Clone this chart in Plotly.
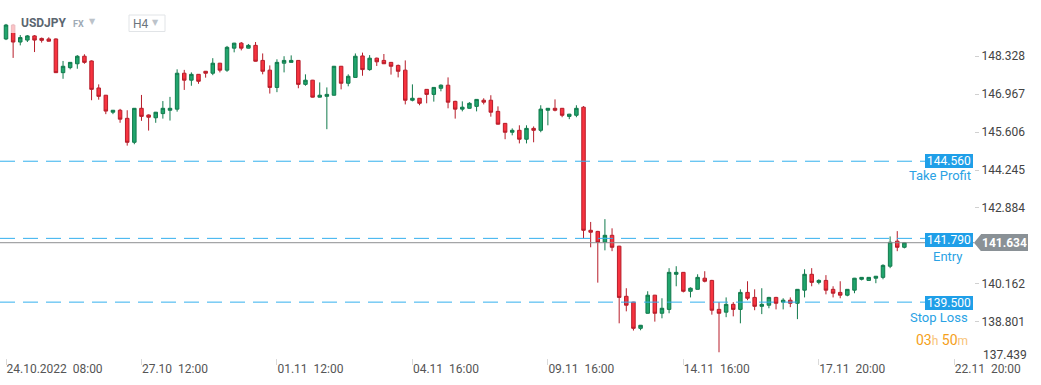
import plotly.graph_objects as go

# ---------------- data ----------------
opens = [148.95,149.45,148.84,148.91,149.06,148.97,148.95,148.95,147.74,147.92,
         148.06,148.33,148.16,147.19,146.93,146.32,146.39,146.10,145.24,146.46,
         146.22,146.12,146.27,146.39,146.43,147.72,147.47,147.68,147.79,147.72,
         148.08,147.83,148.62,148.80,148.62,148.72,148.18,147.83,147.21,148.08,
         148.11,148.18,147.32,147.47,146.86,146.89,146.93,147.97,147.36,147.57,
         148.34,147.85,148.26,148.18,148.11,148.00,147.83,146.75,146.82,147.14,
         146.96,147.18,147.29,146.71,146.43,146.46,146.53,146.75,146.75,146.35,
         145.92,145.60,145.67,145.35,145.74,145.67,146.39,146.46,146.46,146.17,
         146.21,146.50,142.08,142.04,141.65,141.90,141.51,139.71,139.50,138.56,
         139.10,139.75,139.10,139.24,140.50,140.57,139.89,139.96,140.36,140.28,
         139.24,139.14,139.42,139.24,139.85,139.67,139.35,139.39,139.67,139.50,
         139.57,139.46,139.93,140.50,140.21,140.28,139.96,139.85,139.75,139.93,
         140.32,140.28,140.36,140.39,140.79,141.69,141.47]
highs = [149.49,149.49,149.09,149.09,149.09,149.00,149.01,148.97,148.16,148.12,
         148.37,148.40,148.18,147.32,146.94,146.40,146.44,146.39,146.47,146.94,
         146.24,146.33,146.72,146.87,147.86,147.84,147.75,147.69,147.80,148.26,
         148.09,148.70,148.81,148.84,148.77,148.84,148.43,148.00,148.22,148.33,
         148.36,148.19,147.68,147.48,147.39,147.21,147.98,147.98,147.68,148.43,
         148.46,148.37,148.28,148.41,148.12,148.03,148.18,147.32,146.83,147.15,
         147.22,147.32,147.57,146.73,146.71,146.68,146.79,146.82,146.93,146.53,
         145.93,145.74,145.85,145.85,145.81,146.57,146.47,146.78,146.47,146.26,
         146.57,146.54,142.38,142.06,142.48,142.15,141.52,140.00,139.51,138.68,
         139.89,139.76,139.64,140.72,140.79,140.58,140.03,140.50,140.61,140.30,
         139.50,139.67,139.50,139.96,140.25,139.96,140.00,139.69,139.69,139.64,
         139.67,139.97,140.68,140.72,140.32,140.47,140.07,140.25,139.97,140.37,
         140.40,140.40,140.44,140.86,141.86,142.05,141.66]
lows = [148.91,148.27,148.72,148.84,148.48,148.82,148.86,147.73,147.52,147.86,
        147.88,148.06,146.75,146.77,146.25,146.25,145.94,145.12,145.17,146.01,
        145.66,145.94,146.09,146.02,146.34,147.12,147.27,147.34,147.56,147.65,
        147.75,147.77,148.47,148.54,148.61,148.14,147.68,146.99,147.04,147.75,
        148.11,147.18,147.27,146.85,146.85,145.71,146.92,147.14,147.25,147.57,
        147.63,147.81,147.98,148.05,147.67,147.57,146.60,146.71,146.57,146.64,
        146.70,147.07,146.46,146.09,146.35,146.45,146.35,146.60,146.16,145.88,
        145.35,145.49,145.20,145.20,145.24,145.60,145.85,146.35,146.14,146.07,
        146.14,141.79,141.47,140.20,141.36,141.33,138.74,139.17,138.48,138.49,
        139.09,138.80,138.92,139.10,140.07,139.85,139.67,139.96,140.21,139.05,
        137.70,138.96,138.99,138.74,139.57,139.21,139.07,139.28,139.24,139.24,
        139.32,138.89,139.67,140.07,140.14,139.78,139.67,139.64,139.71,139.82,
        140.28,140.28,140.18,140.32,140.72,141.33,141.43]
closes = [149.45,148.84,149.00,149.06,148.91,148.90,148.87,147.74,147.97,148.11,
          148.33,148.11,147.14,146.89,146.36,146.39,146.07,145.24,146.46,146.17,
          146.14,146.32,146.46,146.46,147.72,147.47,147.68,147.43,147.72,148.08,
          147.83,148.65,148.80,148.62,148.72,148.15,147.79,147.21,148.11,148.18,
          148.18,147.32,147.47,146.86,146.93,146.96,147.97,147.36,147.61,148.33,
          147.85,148.26,148.13,148.06,147.97,147.79,146.75,146.82,146.64,146.96,
          147.21,147.29,146.68,146.43,146.50,146.64,146.78,146.68,146.32,145.89,
          145.60,145.67,145.35,145.74,145.67,146.43,146.46,146.39,146.21,146.25,
          146.46,142.08,142.01,141.65,141.90,141.47,139.67,139.39,138.56,138.67,
          139.75,139.10,139.28,140.57,140.57,139.89,140.00,140.39,140.25,139.21,
          139.10,139.42,139.24,139.85,139.64,139.35,139.42,139.67,139.46,139.57,
          139.46,139.96,140.50,140.21,140.28,139.93,139.82,139.75,139.96,140.36,
          140.39,140.39,140.43,140.82,141.65,141.47,141.634]
bar_index = list(range(len(opens)))

time_tick_index = [0, 19, 38, 57, 76, 95, 114, 133]
time_tick_text = ["24.10.2022\u00a0\u00a008:00", "27.10\u00a0\u00a012:00", "01.11\u00a0\u00a012:00",
                  "04.11\u00a0\u00a016:00", "09.11\u00a0\u00a016:00", "14.11\u00a0\u00a016:00",
                  "17.11\u00a0\u00a020:00", "22.11\u00a0\u00a020:00"]
price_ticks = [148.328, 146.967, 145.606, 144.245, 142.884, 140.162, 138.801]
bottom_tick = 137.439

take_profit = 144.560
entry = 141.790
stop_loss = 139.500
last_price = 141.634

# ---------------- figure ----------------
W, H = 1041, 385
ML, MR, MT, MB = 0, 67, 0, 27
PW, PH = W - ML - MR, H - MT - MB
PX_PER_UNIT = 27.85
BAR_PX = 7.13
y_top = 150.349
y_bot = y_top - PH / PX_PER_UNIT
x_left = -6 / BAR_PX
x_right = x_left + PW / BAR_PX

FONT = "Roboto"
BLUE_BOX = "#1f9fe8"
BLUE_TXT = "#2aa2e4"
DASH_CLR = "#33b0ee"

fig = go.Figure()
fig.add_trace(go.Candlestick(
    x=bar_index, open=opens, high=highs, low=lows, close=closes,
    increasing=dict(fillcolor="#20a56d", line=dict(color="#117a4c", width=1)),
    decreasing=dict(fillcolor="#f7333f", line=dict(color="#b71d2a", width=1)),
    whiskerwidth=0, hoverinfo="skip", showlegend=False,
))

shapes = []
box_left_px = 925
for lvl in (take_profit, entry, stop_loss):
    shapes.append(dict(type="line", xref="paper", yref="y", x0=0, x1=box_left_px / PW,
                       y0=lvl, y1=lvl, line=dict(color=DASH_CLR, width=1, dash="15px,8px"),
                       layer="above"))
shapes.append(dict(type="line", xref="paper", yref="y", x0=0, x1=1, y0=last_price, y1=last_price,
                   line=dict(color="#8d8f91", width=1), layer="above"))
# notch of current price label
half = 8.5 / PX_PER_UNIT
shapes.append(dict(type="path", xref="paper", yref="y",
                   path=f"M {974/PW:.5f},{last_price} L {981/PW:.5f},{last_price+half} "
                        f"L {981/PW:.5f},{last_price-half} Z",
                   fillcolor="#8a9196", line=dict(width=0), layer="above"))
# header overlay
shapes.append(dict(type="rect", xref="paper", yref="paper", x0=10 / PW, x1=175 / PW,
                   y0=1 - 33 / PH, y1=1, fillcolor="rgba(255,255,255,0.7)", line=dict(width=0),
                   layer="above"))
# H4 box
shapes.append(dict(type="rect", xref="paper", yref="paper", x0=129 / PW, x1=165 / PW,
                   y0=1 - 31.5 / PH, y1=1 - 15 / PH, fillcolor="rgba(255,255,255,0)",
                   line=dict(color="#e1e4e7", width=1), layer="above"))

ann = []
def level_box(val, text, yshift=0):
    ann.append(dict(xref="paper", yref="y", x=1, y=val, xanchor="right", yanchor="middle",
                    xshift=-1, yshift=yshift, text=text, showarrow=False, bgcolor=BLUE_BOX,
                    font=dict(family=FONT, size=12, color="white"), width=46, height=12,
                    borderpad=1, borderwidth=0))

level_box(take_profit, f"{take_profit:.3f}")
level_box(entry, f"{entry:.3f}", yshift=-2)
level_box(stop_loss, f"{stop_loss:.3f}", yshift=-1)

ann.append(dict(xref="paper", yref="y", x=1, y=take_profit, xanchor="right", yanchor="middle",
                xshift=-1, yshift=-14, text="Take Profit", showarrow=False,
                font=dict(family=FONT, size=13, color=BLUE_TXT)))
ann.append(dict(xref="paper", yref="y", x=1, y=entry, xanchor="center", yanchor="middle",
                xshift=-26, yshift=-18.5, text="Entry", showarrow=False,
                font=dict(family=FONT, size=13, color=BLUE_TXT)))
ann.append(dict(xref="paper", yref="y", x=1, y=stop_loss, xanchor="right", yanchor="middle",
                xshift=-4, yshift=-15, text="Stop Loss", showarrow=False,
                font=dict(family=FONT, size=13, color=BLUE_TXT)))
# current price label
ann.append(dict(xref="paper", yref="y", x=1, y=last_price, xanchor="left", yanchor="middle",
                xshift=7, text=f"<b>{last_price:.3f}</b>", showarrow=False, bgcolor="#8a9196",
                font=dict(family=FONT, size=12, color="white"), width=45, height=15,
                borderpad=1, borderwidth=0))
# bottom price tick label (shifted up)
ann.append(dict(xref="paper", yref="paper", x=1, y=1, xanchor="left", yanchor="middle",
                xshift=7, yshift=-355, text=f"{bottom_tick:.3f}", showarrow=False,
                font=dict(family=FONT, size=12, color="#444444")))
# countdown
ann.append(dict(xref="paper", yref="paper", x=1, y=1, xanchor="right", yanchor="middle",
                xshift=-4, yshift=-340,
                text="<span style='color:#f5a01a'>03</span><span style='color:#f8c377;font-size:12px'>h</span>"
                     " <span style='color:#f5a01a'>50</span><span style='color:#f8c377;font-size:12px'>m</span>",
                showarrow=False, font=dict(family=FONT, size=14, color="#f5a01a")))
# header texts
ann.append(dict(xref="paper", yref="paper", x=0, y=1, xanchor="left", yanchor="middle",
                xshift=19, yshift=-22.5, text="<b>USDJPY</b>", showarrow=False,
                font=dict(family=FONT, size=12, color="#5b6670")))
ann.append(dict(xref="paper", yref="paper", x=0, y=1, xanchor="left", yanchor="middle",
                xshift=71, yshift=-24, text="<b>FX</b>", showarrow=False,
                font=dict(family=FONT, size=9, color="#9eaab5")))
ann.append(dict(xref="paper", yref="paper", x=0, y=1, xanchor="left", yanchor="middle",
                xshift=87, yshift=-21.5, text="▼", showarrow=False,
                font=dict(family="DejaVu Sans", size=8, color="#bcc3ca")))
ann.append(dict(xref="paper", yref="paper", x=0, y=1, xanchor="left", yanchor="middle",
                xshift=131, yshift=-23.5, text="H4", showarrow=False,
                font=dict(family=FONT, size=12, color="#6c757d")))
ann.append(dict(xref="paper", yref="paper", x=0, y=1, xanchor="left", yanchor="middle",
                xshift=150, yshift=-22.5, text="▼", showarrow=False,
                font=dict(family="DejaVu Sans", size=8, color="#bcc3ca")))

fig.update_layout(
    width=W, height=H, margin=dict(l=ML, r=MR, t=MT, b=MB),
    paper_bgcolor="white", plot_bgcolor="white",
    shapes=shapes, annotations=ann, showlegend=False,
    xaxis=dict(range=[x_left, x_right], rangeslider=dict(visible=False),
               tickvals=time_tick_index, ticktext=time_tick_text,
               ticks="outside", ticklen=6, tickcolor="#dadada", tickwidth=1,
               ticklabelposition="outside right",
               tickfont=dict(family=FONT, size=12, color="#555555"),
               showgrid=False, zeroline=False, showline=False),
    yaxis=dict(range=[y_bot, y_top], side="right",
               tickvals=price_ticks, ticktext=[f"{v:.3f}" for v in price_ticks],
               ticks="outside", ticklen=4, tickcolor="#d0d0d0",
               tickfont=dict(family=FONT, size=12, color="#444444"),
               showgrid=False, zeroline=False, showline=False),
)

fig.write_html("out.html", config={"displayModeBar": False},
               post_script="document.body.style.margin='0';document.body.style.padding='0';")
